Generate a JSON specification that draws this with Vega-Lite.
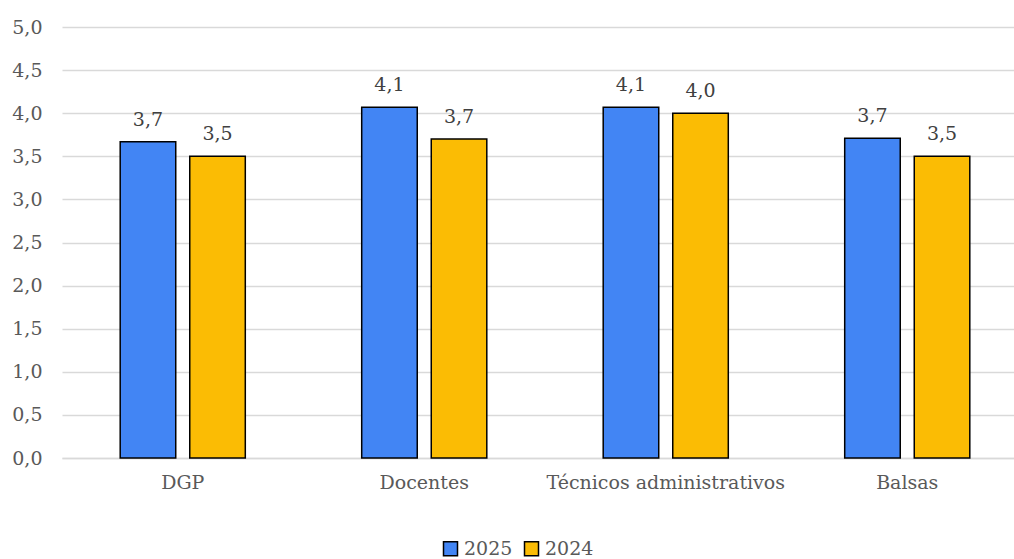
{
  "$schema": "https://vega.github.io/schema/vega-lite/v6.json",
  "width": 952,
  "height": 431,
  "autosize": {"type": "none"},
  "padding": {"left": 62, "top": 27, "right": 0, "bottom": 101},
  "background": "white",
  "config": {
    "view": {"stroke": null},
    "font": "DejaVu Serif",
    "locale": {"number": {"decimal": ",", "thousands": ".", "grouping": [3], "currency": ["", " €"]}}
  },
  "data": {
    "values": [
      {"grupo": "DGP", "ano": "2025", "valor": 3.67},
      {"grupo": "DGP", "ano": "2024", "valor": 3.5},
      {"grupo": "Docentes", "ano": "2025", "valor": 4.07},
      {"grupo": "Docentes", "ano": "2024", "valor": 3.7},
      {"grupo": "Técnicos administrativos", "ano": "2025", "valor": 4.07},
      {"grupo": "Técnicos administrativos", "ano": "2024", "valor": 4.0},
      {"grupo": "Balsas", "ano": "2025", "valor": 3.71},
      {"grupo": "Balsas", "ano": "2024", "valor": 3.5}
    ]
  },
  "encoding": {
    "x": {
      "field": "grupo",
      "type": "nominal",
      "sort": ["DGP", "Docentes", "Técnicos administrativos", "Balsas"],
      "scale": {"range": [0, 966], "paddingInner": 0.482, "paddingOuter": 0.241},
      "axis": {
        "title": null,
        "labelAngle": 0,
        "labelFont": "DejaVu Serif",
        "labelFontSize": 19,
        "labelColor": "#595959",
        "labelPadding": 15,
        "ticks": false,
        "domainColor": "#d9d9d9",
        "domainWidth": 1.5,
        "labelLimit": 400
      }
    },
    "xOffset": {
      "field": "ano",
      "type": "nominal",
      "sort": ["2025", "2024"],
      "scale": {"paddingInner": 0.2014, "paddingOuter": 0}
    },
    "y": {
      "field": "valor",
      "type": "quantitative",
      "scale": {"domain": [0, 5], "nice": false},
      "axis": {
        "title": null,
        "values": [0, 0.5, 1, 1.5, 2, 2.5, 3, 3.5, 4, 4.5, 5],
        "format": ".1f",
        "labelFont": "DejaVu Serif",
        "labelFontSize": 19,
        "labelColor": "#595959",
        "labelPadding": 20,
        "ticks": false,
        "domain": false,
        "gridColor": "#d9d9d9",
        "gridWidth": 1.5
      }
    }
  },
  "layer": [
    {
      "mark": {"type": "bar", "stroke": "black", "strokeWidth": 1.5},
      "encoding": {
        "color": {
          "field": "ano",
          "type": "nominal",
          "sort": ["2025", "2024"],
          "scale": {"domain": ["2025", "2024"], "range": ["#4285F4", "#FBBC04"]},
          "legend": {
            "title": null,
            "orient": "none",
            "direction": "horizontal",
            "legendX": 379,
            "legendY": 512,
            "symbolType": "square",
            "symbolSize": 196,
            "symbolStrokeColor": "black",
            "symbolStrokeWidth": 1.5,
            "symbolOpacity": 1,
            "labelFont": "DejaVu Serif",
            "labelFontSize": 19,
            "labelColor": "#595959",
            "labelOffset": 4,
            "columnPadding": 8
          }
        }
      }
    },
    {
      "mark": {"type": "text", "baseline": "alphabetic", "dy": -16, "fontSize": 19, "font": "DejaVu Serif", "color": "#404040"},
      "encoding": {
        "text": {"field": "valor", "type": "quantitative", "format": ".1f"}
      }
    }
  ]
}
